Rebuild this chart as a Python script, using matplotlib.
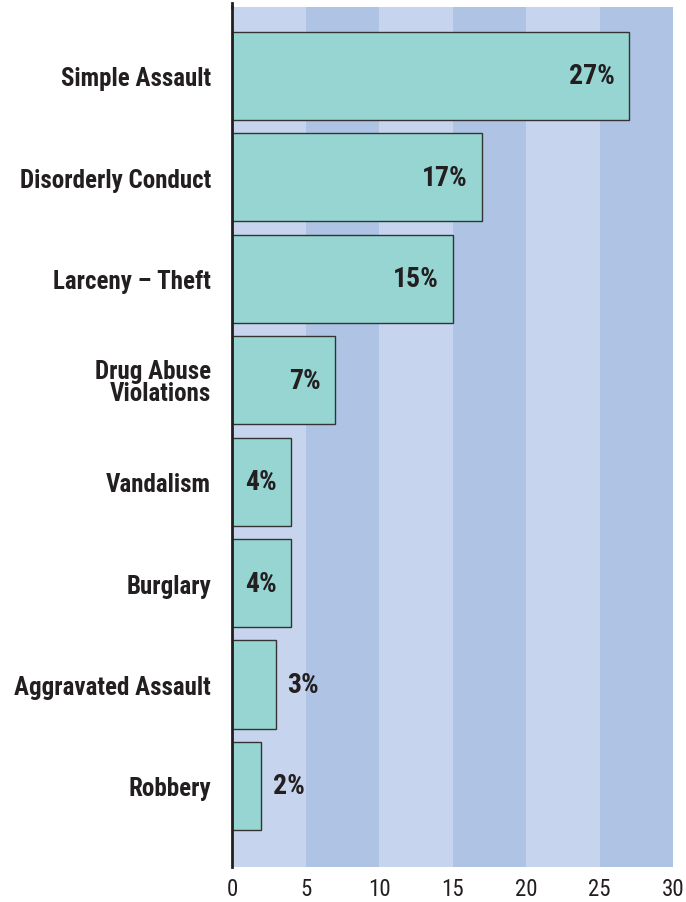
import matplotlib.pyplot as plt
from matplotlib import font_manager

categories = ["Simple Assault", "Disorderly Conduct", "Larceny \u2013 Theft",
              "Drug Abuse\nViolations", "Vandalism", "Burglary",
              "Aggravated Assault", "Robbery"]
percents = [27, 17, 15, 7, 4, 4, 3, 2]
ticks = [0, 5, 10, 15, 20, 25, 30]

names = {f.name for f in font_manager.fontManager.ttflist}
family = "Roboto"
for cand in ("Roboto Condensed", "Liberation Sans Narrow", "Open Sans Condensed"):
    if cand in names:
        family = cand
        break
plt.rcParams["font.family"] = [family, "DejaVu Sans"]

ink = "#231F20"
bar_color = "#97D5D2"
band_light = "#C6D4EE"
band_dark = "#AFC4E4"

fig = plt.figure(figsize=(6.86, 9.03), dpi=100)
ax = fig.add_axes([232 / 686, 1 - 868 / 903, 441 / 686, 860 / 903])

# alternating vertical bands every 5 units
for i, lo in enumerate(ticks[:-1]):
    ax.axvspan(lo, lo + 5, color=band_light if i % 2 == 0 else band_dark,
               lw=0, zorder=0)

ypos = list(range(len(categories)))
ax.barh(ypos, percents, height=0.87, color=bar_color, edgecolor="#333333",
        linewidth=1.0, zorder=2)

for y, v in zip(ypos, percents):
    if v >= 4:
        ax.annotate(f"{v}%", (v, y), xytext=(-10, 0), textcoords="offset points",
                    ha="right", va="center", fontsize=20, fontweight="bold",
                    color=ink, zorder=3)
    else:
        ax.annotate(f"{v}%", (v, y), xytext=(8, 0), textcoords="offset points",
                    ha="left", va="center", fontsize=20, fontweight="bold",
                    color=ink, zorder=3)

ax.set_xlim(0, 30)
ax.set_ylim(7.80, -0.68)
ax.set_xticks(ticks)
ax.set_xticklabels([str(t) for t in ticks], fontsize=16.5, color=ink)
ax.set_yticks(ypos)
ax.set_yticklabels(categories, fontsize=18, fontweight="bold", color=ink,
                   linespacing=0.9, multialignment="right")
ax.tick_params(axis="both", length=0)
ax.tick_params(axis="y", pad=15)
ax.tick_params(axis="x", pad=7)

for side in ("top", "right", "bottom"):
    ax.spines[side].set_visible(False)
ax.spines["left"].set_color(ink)
ax.spines["left"].set_linewidth(2)
ax.spines["left"].set_zorder(4)
# let the axis line run slightly above the shaded area
ax.plot([0, 0], [-0.68, -0.72], color=ink, lw=2, clip_on=False, zorder=4)

fig.savefig("out.png", dpi=100)
